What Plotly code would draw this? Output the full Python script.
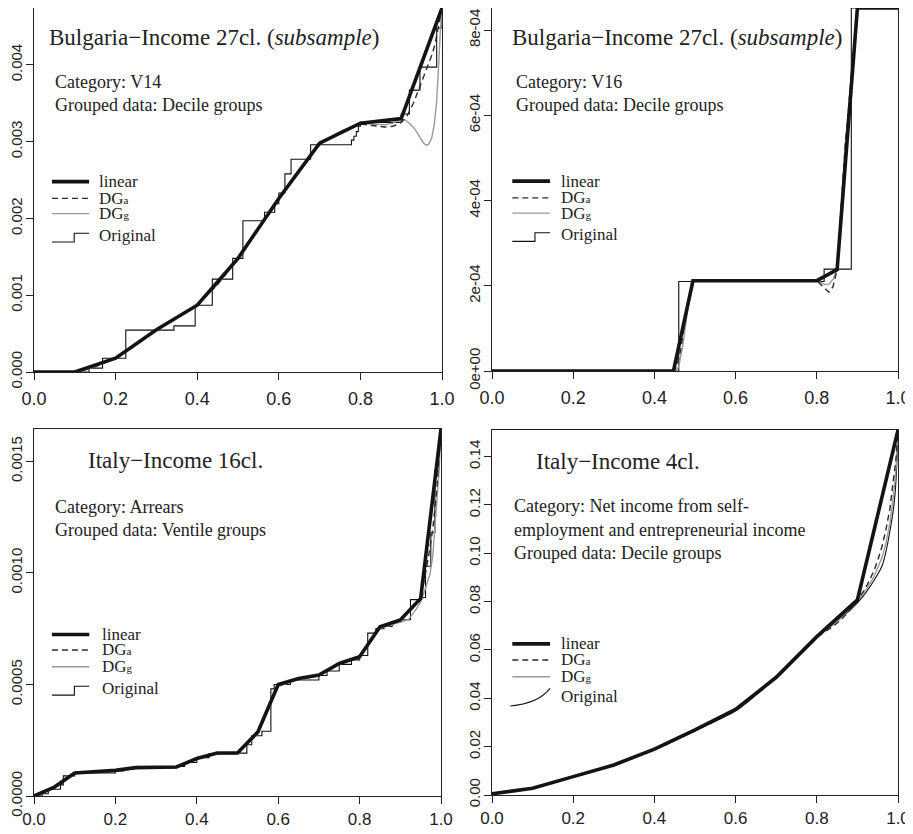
import plotly.graph_objects as go

# ---------------- Panel 1: Bulgaria, V14 ----------------
p1_lin_x = [0, 0.1, 0.2, 0.3, 0.4, 0.5, 0.6, 0.7, 0.8, 0.9, 1.0]
p1_lin_y = [0, 0, 0.00018, 0.00055, 0.00087, 0.00148, 0.00226, 0.00298, 0.00324, 0.00330, 0.00474]
p1_dga_x = [0, 0.08, 0.1, 0.12, 0.15, 0.2, 0.25, 0.3, 0.35, 0.4, 0.45, 0.5, 0.55, 0.6, 0.65, 0.7,
            0.75, 0.8, 0.83, 0.86, 0.88, 0.9, 0.913, 0.93, 0.946, 0.958, 0.967, 0.976, 0.983,
            0.991, 0.996, 1.0]
p1_dga_y = [0, 0, 0.000003, 0.00002, 0.00007, 0.00018, 0.00035, 0.00055, 0.0007, 0.00087, 0.00114,
            0.00148, 0.00186, 0.00226, 0.00263, 0.00296, 0.00313, 0.00323, 0.00321, 0.00319, 0.0032,
            0.00325, 0.00332, 0.0035, 0.00372, 0.00388, 0.00401, 0.00414, 0.00427, 0.00447,
            0.0046, 0.00474]
p1_dgg_x = [0, 0.08, 0.1, 0.12, 0.15, 0.2, 0.25, 0.3, 0.35, 0.4, 0.45, 0.5, 0.55, 0.6, 0.65, 0.7,
            0.75, 0.8, 0.83, 0.86, 0.88, 0.9, 0.91, 0.922, 0.934, 0.946, 0.955, 0.962, 0.968,
            0.975, 0.981, 0.987, 0.99, 0.993, 0.996, 1.0]
p1_dgg_y = [0, 0, 0.000003, 0.00002, 0.00007, 0.00018, 0.00035, 0.00055, 0.0007, 0.00087, 0.00114,
            0.00148, 0.00186, 0.00226, 0.00263, 0.00296, 0.00313, 0.00324, 0.00323, 0.00322,
            0.00324, 0.00329, 0.00328, 0.00323, 0.00316, 0.00306, 0.00298, 0.00295, 0.00297,
            0.00305, 0.00322, 0.00353, 0.00378, 0.00412, 0.00445, 0.00474]
p1_orig_x = [0, 0.135, 0.168, 0.225, 0.343, 0.395, 0.437, 0.487, 0.512, 0.565, 0.59, 0.6, 0.615,
             0.63, 0.678, 0.778, 0.784, 0.79, 0.795, 0.8, 0.9, 0.92, 0.946, 0.987, 1.0]
p1_orig_y = [0, 0.00005, 0.00018, 0.000545, 0.0006, 0.00087, 0.00121, 0.00148, 0.00197, 0.00208,
             0.00219, 0.00233, 0.00258, 0.00277, 0.00296, 0.00302, 0.00307, 0.00313, 0.0032,
             0.00325, 0.00336, 0.00367, 0.00397, 0.00448, 0.00474]

# ---------------- Panel 2: Bulgaria, V16 ----------------
p2_lin_x = [0, 0.447, 0.495, 0.8, 0.85, 0.9, 1.0]
p2_lin_y = [0, 0, 0.000212, 0.000212, 0.000238, 0.000852, 0.000852]
p2_dga_x = [0, 0.447, 0.455, 0.465, 0.48, 0.495, 0.8, 0.81, 0.82, 0.83, 0.84, 0.85, 0.87, 0.9, 1.0]
p2_dga_y = [0, 0, 0.00001, 0.00005, 0.00015, 0.000212, 0.000212, 0.000203, 0.000192, 0.000185,
            0.000198, 0.000238, 0.00053, 0.000852, 0.000852]
p2_dgg_x = [0, 0.452, 0.46, 0.47, 0.483, 0.497, 0.8, 0.81, 0.82, 0.83, 0.84, 0.85, 0.87, 0.9, 1.0]
p2_dgg_y = [0, 0, 0.00001, 0.00006, 0.00015, 0.000212, 0.000212, 0.000207, 0.000203, 0.000204,
            0.000215, 0.000238, 0.00053, 0.000852, 0.000852]
p2_orig_x = [0, 0.46, 0.818, 0.885, 1.0]
p2_orig_y = [0, 0.00021, 0.000239, 0.000852, 0.000852]

# ---------------- Panel 3: Italy, Arrears ----------------
p3_lin_x = [0, 0.05, 0.1, 0.15, 0.2, 0.25, 0.3, 0.35, 0.4, 0.45, 0.5, 0.55, 0.6, 0.65, 0.7,
            0.75, 0.8, 0.85, 0.9, 0.95, 1.0]
p3_lin_y = [0, 0.00004, 0.000103, 0.000108, 0.000115, 0.000127, 0.000127, 0.00013, 0.000168,
            0.000193, 0.000193, 0.000287, 0.0005, 0.000527, 0.000542, 0.000594, 0.000624,
            0.000759, 0.000789, 0.000885, 0.001645]
p3_dga_x = [0, 0.05, 0.1, 0.15, 0.2, 0.25, 0.3, 0.35, 0.4, 0.45, 0.5, 0.55, 0.6, 0.65, 0.7,
            0.75, 0.8, 0.85, 0.9, 0.95, 0.96, 0.97, 0.98, 0.99, 1.0]
p3_dga_y = [0, 0.00004, 0.0001, 0.000108, 0.000115, 0.000126, 0.000127, 0.000128, 0.000166,
            0.00019, 0.000191, 0.00028, 0.000495, 0.000525, 0.00054, 0.000592, 0.000622,
            0.000752, 0.000785, 0.000882, 0.00098, 0.00108, 0.0012, 0.00138, 0.001645]
p3_dgg_x = [0, 0.05, 0.1, 0.15, 0.2, 0.25, 0.3, 0.35, 0.4, 0.45, 0.5, 0.55, 0.6, 0.65, 0.7,
            0.75, 0.8, 0.85, 0.9, 0.92, 0.94, 0.95, 0.96, 0.967, 0.973, 0.98, 0.985, 0.99,
            0.995, 1.0]
p3_dgg_y = [0, 0.000035, 0.0001, 0.000107, 0.000114, 0.000125, 0.000127, 0.000128, 0.000165,
            0.00019, 0.00019, 0.000278, 0.00049, 0.000523, 0.000538, 0.00059, 0.00062,
            0.00075, 0.00078, 0.00079, 0.00084, 0.00087, 0.00092, 0.00096, 0.000995, 0.00108,
            0.00119, 0.00131, 0.00145, 0.001645]
p3_orig_x = [0, 0.02, 0.035, 0.065, 0.072, 0.1, 0.2, 0.22, 0.245, 0.35, 0.37, 0.4, 0.43, 0.5,
             0.523, 0.535, 0.56, 0.582, 0.59, 0.63, 0.7, 0.72, 0.75, 0.78, 0.8, 0.82, 0.84,
             0.86, 0.88, 0.9, 0.925, 0.95, 0.962, 0.975, 0.985, 0.995, 1.0]
p3_orig_y = [0, 0.00001, 0.00003, 0.00005, 0.00009, 0.000103, 0.000112, 0.00012, 0.000127,
             0.000132, 0.00015, 0.000172, 0.00019, 0.000192, 0.00023, 0.00027, 0.00029,
             0.00048, 0.0005, 0.00052, 0.00054, 0.00056, 0.00059, 0.00061, 0.00063, 0.00073,
             0.00075, 0.00076, 0.00078, 0.00079, 0.00088, 0.00089, 0.00103, 0.00118, 0.00146,
             0.00155, 0.001645]

# ---------------- Panel 4: Italy, self-employment ----------------
p4_lin_x = [0, 0.1, 0.2, 0.3, 0.4, 0.5, 0.6, 0.7, 0.8, 0.9, 1.0]
p4_lin_y = [0.0005, 0.0028, 0.0076, 0.0124, 0.019, 0.0269, 0.0354, 0.0487, 0.0655, 0.0807, 0.151]
p4_dga_x = [0, 0.1, 0.2, 0.3, 0.4, 0.5, 0.6, 0.7, 0.8, 0.82, 0.84, 0.86, 0.88, 0.9, 0.92, 0.94,
            0.95, 0.96, 0.97, 0.98, 0.99, 0.995, 1.0]
p4_dga_y = [0.0004, 0.0027, 0.0074, 0.0122, 0.0187, 0.0265, 0.0348, 0.0484, 0.0652, 0.0675,
            0.0698, 0.0725, 0.0762, 0.0805, 0.0855, 0.0925, 0.097, 0.1025, 0.1095, 0.1185,
            0.131, 0.139, 0.151]
p4_dgg_x = [0, 0.1, 0.2, 0.3, 0.4, 0.5, 0.6, 0.7, 0.8, 0.82, 0.84, 0.86, 0.88, 0.9, 0.92, 0.94,
            0.96, 0.97, 0.98, 0.99, 0.995, 1.0]
p4_dgg_y = [0.0004, 0.0027, 0.0075, 0.0123, 0.0188, 0.0266, 0.035, 0.0485, 0.0653, 0.0678,
            0.0703, 0.0732, 0.0768, 0.0803, 0.0845, 0.09, 0.098, 0.104, 0.1125, 0.1255, 0.135,
            0.151]
p4_orig_x = [0, 0.05, 0.1, 0.15, 0.2, 0.25, 0.3, 0.35, 0.4, 0.45, 0.5, 0.55, 0.6, 0.65, 0.7,
             0.75, 0.8, 0.825, 0.85, 0.875, 0.9, 0.92, 0.94, 0.96, 0.97, 0.98, 0.99, 0.995, 1.0]
p4_orig_y = [0.0003, 0.0015, 0.0028, 0.005, 0.0075, 0.0098, 0.0122, 0.0155, 0.0187, 0.0225,
             0.0266, 0.0305, 0.0348, 0.0413, 0.0485, 0.0568, 0.0652, 0.069, 0.0722, 0.0755,
             0.0795, 0.0835, 0.0885, 0.0945, 0.1005, 0.109, 0.12, 0.13, 0.151]

# tick labels
x_tickvals = [0, 0.2, 0.4, 0.6, 0.8, 1.0]
x_ticktext = ["0.0", "0.2", "0.4", "0.6", "0.8", "1.0"]
p1_yticks = [0, 0.001, 0.002, 0.003, 0.004]
p1_ytext = ["0.000", "0.001", "0.002", "0.003", "0.004"]
p2_yticks = [0, 0.0002, 0.0004, 0.0006, 0.0008]
p2_ytext = ["0e+00", "2e-04", "4e-04", "6e-04", "8e-04"]
p3_yticks = [0, 0.0005, 0.0010, 0.0015]
p3_ytext = ["0.0000", "0.0005", "0.0010", "0.0015"]
p4_yticks = [0, 0.02, 0.04, 0.06, 0.08, 0.10, 0.12, 0.14]
p4_ytext = ["0.00", "0.02", "0.04", "0.06", "0.08", "0.10", "0.12", "0.14"]
y_ranges = [[0, 0.00474], [0, 0.000852], [0, 0.001645], [0, 0.151]]

titles = ["Bulgaria\u2212Income 27cl. (<i>subsample</i>)",
          "Bulgaria\u2212Income 27cl. (<i>subsample</i>)",
          "Italy\u2212Income 16cl.",
          "Italy\u2212Income 4cl."]
subtexts = [["Category: V14", "Grouped data: Decile groups"],
            ["Category: V16", "Grouped data: Decile groups"],
            ["Category: Arrears", "Grouped data: Ventile groups"],
            ["Category: Net income from self-", "employment and entrepreneurial income",
             "Grouped data: Decile groups"]]
legend_labels = ["linear", "DG<span style='font-size:11px'>a</span>",
                 "DG<span style='font-size:11px'>g</span>", "Original"]

panels = [
    (p1_lin_x, p1_lin_y, p1_dga_x, p1_dga_y, p1_dgg_x, p1_dgg_y, p1_orig_x, p1_orig_y, "hv"),
    (p2_lin_x, p2_lin_y, p2_dga_x, p2_dga_y, p2_dgg_x, p2_dgg_y, p2_orig_x, p2_orig_y, "hv"),
    (p3_lin_x, p3_lin_y, p3_dga_x, p3_dga_y, p3_dgg_x, p3_dgg_y, p3_orig_x, p3_orig_y, "hv"),
    (p4_lin_x, p4_lin_y, p4_dga_x, p4_dga_y, p4_dgg_x, p4_dgg_y, p4_orig_x, p4_orig_y, "spline"),
]
yticks = [(p1_yticks, p1_ytext), (p2_yticks, p2_ytext), (p3_yticks, p3_ytext), (p4_yticks, p4_ytext)]

# the page body adds an 8px margin around the figure
OFF = 8
W, H = 913 - 2 * OFF, 834 - 2 * OFF
# pixel boxes on screen: (left, right, top, bottom)
boxes = [(34, 442, 8, 372), (492, 898, 8, 371), (34, 441, 429, 796), (492, 898, 430, 795)]
x_label_standoff = [3, 3, 0, 0]
x_label_size = [18, 18, 17, 17]

fig = go.Figure()
for i, (lx, ly, ax_, ay, gx, gy, ox, oy, oshape) in enumerate(panels):
    s = "" if i == 0 else str(i + 1)
    xa, ya = "x" + s, "y" + s
    fig.add_trace(go.Scatter(x=ox, y=oy, mode="lines", line=dict(color="#111111", width=1.1, shape=oshape),
                             xaxis=xa, yaxis=ya, showlegend=False, hoverinfo="skip"))
    fig.add_trace(go.Scatter(x=gx, y=gy, mode="lines", line=dict(color="#9a9a9a", width=1.4),
                             xaxis=xa, yaxis=ya, showlegend=False, hoverinfo="skip"))
    fig.add_trace(go.Scatter(x=ax_, y=ay, mode="lines", line=dict(color="#2a2a2a", width=1.4, dash="6px,4px"),
                             xaxis=xa, yaxis=ya, showlegend=False, hoverinfo="skip"))
    fig.add_trace(go.Scatter(x=lx, y=ly, mode="lines", line=dict(color="#141414", width=3.6),
                             xaxis=xa, yaxis=ya, showlegend=False, hoverinfo="skip"))

layout = dict(width=W, height=H, margin=dict(l=0, r=0, t=0, b=0, pad=0),
              paper_bgcolor="white", plot_bgcolor="white", showlegend=False)
axis_common = dict(showline=True, linecolor="#222222", linewidth=1.3, mirror=True, ticks="outside",
                   ticklen=7, tickwidth=1.2, tickcolor="#222222", showgrid=False, zeroline=False,
                   fixedrange=True, automargin=False, ticklabeloverflow="allow")
annotations = []
shapes = []
serif = "Liberation Serif, Times New Roman, serif"
sans = "Liberation Sans, Arial, sans-serif"
title_pos = [(0.032, 0.918), (0.044, 0.918), (0.128, 0.914), (0.104, 0.913)]
sub_pos = [(0.047, [0.797, 0.734]), (0.054, [0.797, 0.734]), (0.047, [0.788, 0.725]),
           (0.05, [0.792, 0.726, 0.663])]
leg_rows = [[0.523, 0.477, 0.435, 0.375], [0.523, 0.477, 0.435, 0.375],
            [0.44, 0.398, 0.352, 0.293], [0.414, 0.37, 0.324, 0.27]]
leg_x = [(0.044, 0.135, 0.155), (0.05, 0.143, 0.165), (0.044, 0.136, 0.162), (0.05, 0.143, 0.165)]


def clamp(v):
    return max(0.0, min(1.0, v))


for i in range(4):
    s = "" if i == 0 else str(i + 1)
    l, r, t, b = [v - OFF for v in boxes[i]]
    xdom = [clamp(l / W), clamp(r / W)]
    ydom = [clamp((H - b) / H), clamp((H - t) / H)]
    layout["xaxis" + s] = dict(axis_common, domain=xdom, range=[0, 1], anchor="y" + s,
                               tickvals=x_tickvals, ticktext=x_ticktext,
                               tickfont=dict(family=sans, size=x_label_size[i], color="#222222"),
                               ticklabelstandoff=x_label_standoff[i])
    tv, tt = yticks[i]
    layout["yaxis" + s] = dict(axis_common, domain=ydom, range=y_ranges[i], anchor="x" + s,
                               tickvals=tv, ticktext=tt, tickangle=-90,
                               tickfont=dict(family=sans, size=15, color="#222222"),
                               ticklabelstandoff=-2)
    xr, yr = "x" + s + " domain", "y" + s + " domain"
    tx, ty = title_pos[i]
    annotations.append(dict(text=titles[i], x=tx, y=ty, xref=xr, yref=yr, xanchor="left",
                            yanchor="middle", showarrow=False,
                            font=dict(family=serif, size=23, color="#222222")))
    sx, sys_ = sub_pos[i]
    for txt, yy in zip(subtexts[i], sys_):
        annotations.append(dict(text=txt, x=sx, y=yy, xref=xr, yref=yr, xanchor="left",
                                yanchor="middle", showarrow=False,
                                font=dict(family=serif, size=18, color="#222222")))
    x0, x1, xt = leg_x[i]
    rows = leg_rows[i]
    for lab, yy in zip(legend_labels, rows):
        annotations.append(dict(text=lab, x=xt, y=yy, xref=xr, yref=yr, xanchor="left",
                                yanchor="middle", showarrow=False,
                                font=dict(family=serif, size=17, color="#222222")))
    shapes.append(dict(type="line", xref=xr, yref=yr, x0=x0, x1=x1, y0=rows[0], y1=rows[0],
                       line=dict(color="#141414", width=3.6)))
    shapes.append(dict(type="line", xref=xr, yref=yr, x0=x0, x1=x1, y0=rows[1], y1=rows[1],
                       line=dict(color="#2a2a2a", width=1.4, dash="6px,4px")))
    shapes.append(dict(type="line", xref=xr, yref=yr, x0=x0, x1=x1, y0=rows[2], y1=rows[2],
                       line=dict(color="#9a9a9a", width=1.4)))
    yo = rows[3]
    if i < 3:
        xm = x0 + 0.6 * (x1 - x0)
        path = f"M {x0},{yo - 0.018} L {xm},{yo - 0.018} L {xm},{yo + 0.006} L {x1},{yo + 0.006}"
    else:
        path = f"M {x0 - 0.005},{yo - 0.026} Q {x1 - 0.03},{yo - 0.02} {x1},{yo + 0.022}"
    shapes.append(dict(type="path", xref=xr, yref=yr, path=path,
                       line=dict(color="#111111", width=1.1)))

layout["annotations"] = annotations
layout["shapes"] = shapes
fig.update_layout(**layout)
fig.write_html("out.html")
